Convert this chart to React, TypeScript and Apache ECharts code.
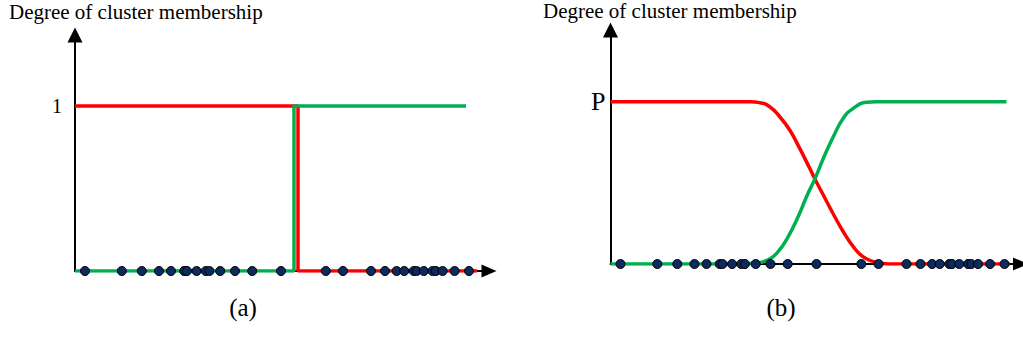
import React, { useEffect, useRef } from "react";
import * as echarts from "echarts";

const FONT = '"Liberation Serif", "Times New Roman", serif';

// Positions of the observations along the feature axis (shared by both panels)
const observations = [
  2.5, 11.7, 16.7, 21, 24, 27.3, 28, 30.4, 32.7, 33.6, 36.3, 40, 44.3, 51.5,
  62.7, 67, 74, 77.5, 80.4, 82.3, 84.7, 85.4, 87.2, 89.4, 90.2, 91.9, 94.9, 98.5,
];

// (a) crisp membership: each point belongs to exactly one cluster
const crispRed: [number, number][] = [
  [0, 1], [55.75, 1], [55.75, 0], [100.5, 0],
];
const crispGreen: [number, number][] = [
  [0, 0], [54.75, 0], [54.75, 1], [97.75, 1],
];

// (b) soft membership: memberships fade smoothly between the clusters
const softRed: [number, number][] = [
  [0, 1], [35, 1], [37.3, 0.995], [39.8, 0.97], [42.3, 0.908], [44.8, 0.826],
  [47.3, 0.713], [49.8, 0.59], [51.2, 0.52], [53.1, 0.43], [55.6, 0.313],
  [58.2, 0.199], [60.7, 0.107], [63.1, 0.045], [65.7, 0.015], [68, 0.003],
  [69.5, 0], [99.8, 0],
];
const softGreen: [number, number][] = [
  [0, 0], [32.8, 0], [36.1, 0.006], [39.4, 0.025], [41.9, 0.076], [44.4, 0.168],
  [46.9, 0.291], [49, 0.415], [51.1, 0.525], [53.2, 0.651], [55.7, 0.785],
  [58.2, 0.899], [60.7, 0.96], [64, 0.997], [66.5, 1], [99, 1],
];

const yTickLeft = "1";
const yTickRight = "P";
const titleText = "Degree of cluster membership";
const captions = ["(a)", "(b)"];

const RED = "#ff0000";
const GREEN = "#00b050";
const DOT = "#0c2a5e";

function axisLineStyle(size: [number, number]) {
  return {
    show: true,
    onZero: false,
    symbol: ["none", "triangle"],
    symbolSize: size,
    lineStyle: { color: "#000", width: 2 },
  };
}

function xAxis(gridIndex: number, max: number) {
  return {
    gridIndex,
    type: "value",
    min: 0,
    max,
    axisLine: axisLineStyle([13, 15]),
    axisTick: { show: false },
    axisLabel: { show: false },
    splitLine: { show: false },
  };
}

function yAxis(gridIndex: number, max: number, label: string, fontSize: number, margin: number, padTop: number) {
  return {
    gridIndex,
    type: "value",
    min: 0,
    max,
    interval: 1,
    axisLine: axisLineStyle([15, 15]),
    axisTick: { show: false },
    splitLine: { show: false },
    axisLabel: {
      show: true,
      showMinLabel: false,
      showMaxLabel: false,
      margin,
      color: "#000",
      fontFamily: FONT,
      fontSize,
      padding: [padTop, 0, 0, 0],
      formatter: (v: number) => (v === 1 ? label : ""),
    },
  };
}

function membershipLine(data: [number, number][], color: string, idx: number, smooth: boolean, z: number) {
  return {
    type: "line",
    xAxisIndex: idx,
    yAxisIndex: idx,
    data,
    showSymbol: false,
    smooth: smooth ? 0.5 : false,
    lineStyle: { color, width: 3.5 },
    z,
    silent: true,
  };
}

function dots(idx: number) {
  return {
    type: "scatter",
    xAxisIndex: idx,
    yAxisIndex: idx,
    data: observations.map((x) => [x, 0]),
    symbolSize: 9,
    itemStyle: { color: DOT, borderColor: "#000", borderWidth: 1, opacity: 1 },
    z: 10,
    silent: true,
  };
}

function label(text: string, x: number, y: number, size: number, align: string) {
  return {
    type: "text",
    x,
    y,
    silent: true,
    style: {
      text,
      font: `${size}px ${FONT}`,
      fill: "#000",
      align,
      verticalAlign: "middle",
    },
  };
}

export default function App() {
  const ref = useRef<HTMLDivElement>(null);

  useEffect(() => {
    if (!ref.current) return;
    const chart = echarts.init(ref.current, undefined, { renderer: "svg" });
    chart.setOption({
      animation: false,
      backgroundColor: "#fff",
      grid: [
        { left: 75, top: 35, width: 414, height: 236 },
        { left: 610.5, top: 30, width: 410, height: 234 },
      ],
      xAxis: [xAxis(0, 103.5), xAxis(1, 102.5)],
      yAxis: [
        yAxis(0, 1.43, yTickLeft, 20, 13, 0),
        yAxis(1, 1.443, yTickRight, 26, 5, 8),
      ],
      series: [
        membershipLine(crispRed, RED, 0, false, 2),
        membershipLine(crispGreen, GREEN, 0, false, 3),
        dots(0),
        membershipLine(softRed, RED, 1, true, 2),
        membershipLine(softGreen, GREEN, 1, true, 3),
        dots(1),
      ],
      graphic: [
        label(titleText, 9, 12, 21, "left"),
        label(titleText, 543, 11, 21, "left"),
        label(captions[0], 243, 307, 25, "center"),
        label(captions[1], 781, 307, 25, "center"),
      ],
    });
    return () => chart.dispose();
  }, []);

  return (
    <div
      ref={ref}
      style={{ position: "absolute", left: 0, top: 0, width: 1023, height: 355 }}
    />
  );
}
